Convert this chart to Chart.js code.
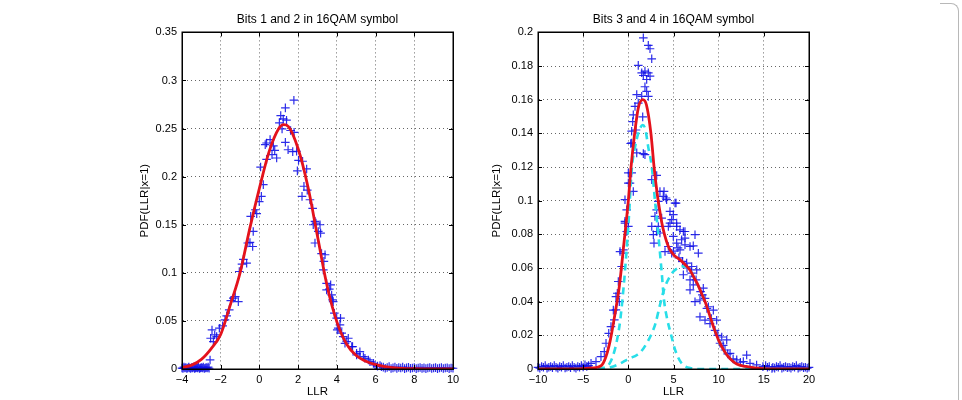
<!DOCTYPE html>
<html>
<head>
<meta charset="utf-8">
<script src="https://cdn.jsdelivr.net/npm/chart.js@4.4.0/dist/chart.umd.min.js"></script>
<style>
body { margin: 0; background: #fff; }
#wrap { position: relative; width: 962px; height: 400px; overflow: hidden; }
#wrap canvas { position: absolute; top: 0; }
#c1 { left: 0; }
#c2 { left: 481px; }
#corner { position: absolute; right: 3px; top: 3px; width: 18px; height: 420px;
  border-top: 1px solid #b8b8b8; border-right: 1px solid #b8b8b8; border-top-right-radius: 8px; }
</style>
</head>
<body>
<div id="wrap">
  <canvas id="c1" width="481" height="400"></canvas>
  <canvas id="c2" width="481" height="400"></canvas>
  <div id="corner"></div>
</div>
<script>
// ---- bits 1 and 2 : histogram points (LLR, pdf) ----
var llr12 = [
  -4.0,-3.95,-3.9,-3.85,-3.8,-3.75,-3.7,-3.65,-3.6,-3.55,
  -3.5,-3.45,-3.4,-3.35,-3.3,-3.25,-3.2,-3.15,-3.1,-3.05,
  -3.0,-2.95,-2.9,-2.85,-2.8,-2.75,-2.7,-2.65,-2.6,
  -2.55,-2.52,-2.45,-2.38,-2.31,-2.21,-2.07,-1.9,-1.78,-1.69,
  -1.56,-1.48,-1.35,-1.25,-1.09,-1.04,-0.9,-0.83,-0.66,-0.6,
  -0.49,-0.35,-0.32,-0.45,-0.21,-0.14,-0.01,0.06,0.1,0.2,
  0.3,0.37,0.37,0.55,0.65,0.72,0.79,0.89,1.03,1.1,
  1.17,1.23,1.34,1.34,1.4,1.48,1.61,1.72,1.78,1.79,
  1.92,1.96,2.02,2.2,2.23,2.3,2.44,2.47,2.61,2.75,
  2.78,2.87,2.87,2.92,3.04,3.13,3.16,3.21,3.3,3.33,
  3.39,3.47,3.47,3.61,3.68,3.73,3.78,3.81,3.87,3.99,
  4.02,4.07,4.16,4.19,4.25,4.33,4.42,4.51,4.59,4.77,
  4.81,5.02,5.02,5.19,5.37,5.45,5.63,5.71,5.89,5.97,
  6.1,6.23,6.3,
  6.4,6.5,6.6,6.7,6.8,6.9,7.0,7.1,7.2,7.3,
  7.4,7.5,7.6,7.7,7.8,7.9,8.0,8.1,8.2,8.3,
  8.4,8.5,8.6,8.7,8.8,8.9,9.0,9.1,9.2,9.3,
  9.4,9.5,9.6,9.7,9.8,9.9,10.0
];
var pdf12 = [
  0.001,0.0005,0.002,0.001,0.0015,0.0005,0.001,0.002,0.001,0.0005,
  0.0015,0.001,0.002,0.0005,0.001,0.0015,0.001,0.002,0.0005,0.001,
  0.0015,0.001,0.002,0.0005,0.001,0.0015,0.001,0.002,0.0008,
  0.0094,0.032,0.0406,0.0285,0.0354,0.0337,0.0424,0.0448,0.051,0.0552,
  0.0615,0.0712,0.0736,0.0753,0.0701,0.1014,0.109,0.114,0.110,0.131,
  0.1316,0.1274,0.143,0.1587,0.1656,0.1615,0.174,0.21,0.1795,0.1917,
  0.2333,0.235,0.218,0.2385,0.2229,0.232,0.2274,0.2194,0.256,0.2635,
  0.2497,0.26,0.2715,0.2357,0.2587,0.228,0.248,0.226,0.2795,0.246,
  0.2264,0.206,0.217,0.1795,0.216,0.19,0.208,0.186,0.176,0.167,
  0.15,0.131,0.1535,0.1517,0.143,0.15,0.1413,0.12,0.103,0.112,
  0.1188,0.089,0.0823,0.083,0.0875,0.077,0.0719,0.0701,0.058,0.0528,
  0.0406,0.0424,0.0458,0.0528,0.0372,0.0337,0.0267,0.0285,0.032,0.0233,
  0.0233,0.0163,0.0146,0.018,0.0128,0.0111,0.0094,0.0076,0.0059,0.0042,
  0.003,0.0035,0.0024,
  0.002,0.0008,0.0015,0.0025,0.0005,0.0012,0.002,0.0006,0.0015,0.001,
  0.002,0.0004,0.0012,0.0018,0.0006,0.001,0.0015,0.0004,0.001,0.0016,
  0.0006,0.0012,0.0004,0.001,0.0015,0.0005,0.001,0.0014,0.0004,0.001,
  0.0015,0.0005,0.001,0.0013,0.0004,0.001,0.0008
];
// fitted pdf (red)
var fit12X = [-4,-3.5,-3,-2.5,-2,-1.5,-1,-0.5,0,0.5,1,1.25,1.5,2,2.5,3,3.5,4,4.5,5,5.5,6,6.5,7,8,9,10];
var fit12Y = [0.0015,0.004,0.01,0.021,0.036,0.067,0.1,0.146,0.188,0.226,0.25,0.254,0.252,0.229,0.19,0.138,0.086,0.049,0.026,0.014,0.008,0.0045,0.0025,0.0012,0.0003,0.0001,0];

// ---- bits 3 and 4 ----
var llr34 = [
  -10,-9.8,-9.6,-9.4,-9.2,-9,-8.8,-8.6,-8.4,-8.2,
  -8,-7.8,-7.6,-7.4,-7.2,-7,-6.8,-6.6,-6.4,-6.2,
  -6,-5.8,-5.6,-5.4,-5.2,-5,-4.8,-4.6,-4.4,
  -4.13,-3.58,-3.03,-2.66,-2.47,-2.17,-1.92,-1.66,-1.55,-1.37,
  -1.37,-1.22,-1.11,-1.0,-0.92,-0.74,-0.55,-0.55,-0.37,-0.37,
  -0.37,-0.18,-0.18,0,0,0,0.18,0.26,0.37,0.37,
  0.37,0.48,0.55,0.55,0.74,0.85,0.93,0.93,1.1,1.1,
  1.48,1.48,1.59,1.66,1.66,1.66,1.84,1.84,1.84,2.03,
  2.03,2.21,2.21,2.21,2.4,2.4,2.59,2.59,2.59,2.77,
  2.84,2.95,3.14,3.14,3.14,3.32,3.32,3.5,3.5,3.69,
  3.87,3.95,4.06,4.17,4.24,4.43,4.43,4.61,4.61,4.8,
  4.8,4.98,4.98,5.0,5.17,5.28,5.35,5.35,5.35,5.5,
  5.6,5.72,5.72,5.9,6.0,6.09,6.09,6.27,6.27,6.27,
  6.46,6.5,6.83,6.83,6.83,7.0,7.01,7.19,7.19,7.38,
  7.38,7.5,7.57,7.75,7.93,7.93,8.0,8.2,8.3,8.49,
  8.49,8.7,8.86,9.04,9.2,9.41,9.6,9.78,9.9,10.15,
  10.34,10.5,10.7,10.89,11.0,11.26,11.6,12,12.4,12.73,
  13.1,13.47,14.2,14.9,15.9,
  15.2,15.4,15.6,16,16.2,16.4,16.6,16.8,17,17.2,
  17.4,17.6,17.8,18,18.2,18.4,18.6,18.8,19,19.2,
  19.4,19.6,19.8,20
];
var pdf34 = [
  0.001,0.0005,0.0015,0.001,0.002,0.0005,0.001,0.0015,0.0008,0.002,
  0.001,0.0005,0.0015,0.001,0.002,0.0006,0.001,0.0015,0.0008,0.002,
  0.001,0.0005,0.0015,0.001,0.002,0.0012,0.0025,0.0015,0.002,
  0.0034,0.0044,0.0073,0.0103,0.0153,0.0212,0.0252,0.035,0.0292,0.0351,
  0.043,0.045,0.052,0.04,0.0698,0.0609,0.0688,0.0708,0.0867,0.0877,
  0.1006,0.0817,0.0946,0.0847,0.1105,0.1165,0.1105,0.134,0.1165,0.1343,
  0.1413,0.147,0.1055,0.151,0.156,0.142,0.1284,0.163,0.158,0.1804,
  0.162,0.176,0.1498,0.128,0.1744,0.1968,0.1274,0.1677,0.177,0.165,
  0.172,0.162,0.176,0.1923,0.174,0.1903,0.1843,0.1125,0.0847,0.0798,
  0.0748,0.0907,0.0946,0.0817,0.115,0.0996,0.0847,0.1055,0.0808,0.0897,
  0.1026,0.1055,0.0698,0.1016,0.1006,0.0847,0.0728,0.0936,0.0867,0.0887,
  0.0688,0.0917,0.0788,0.07,0.0986,0.0986,0.0867,0.0748,0.0847,0.072,
  0.066,0.0827,0.0708,0.0768,0.064,0.0817,0.056,0.0817,0.0738,0.0778,
  0.0629,0.06,0.0728,0.053,0.047,0.057,0.0609,0.0732,0.05,0.0798,
  0.04,0.053,0.0589,0.0688,0.041,0.031,0.046,0.044,0.048,0.042,
  0.029,0.036,0.037,0.027,0.03,0.035,0.023,0.029,0.02,0.0153,
  0.019,0.014,0.0113,0.0173,0.009,0.0093,0.006,0.0054,0.004,0.0044,
  0.0083,0.0034,0.0024,0.0014,0.0004,
  0.002,0.001,0.0015,0.001,0.0005,0.0015,0.001,0.002,0.0005,0.001,
  0.0015,0.0008,0.001,0.0005,0.0015,0.001,0.002,0.0005,0.001,0.0015,
  0.0008,0.001,0.0005,0.001
];
// mixture fit (red) and its two components (cyan dashed)
var fit34X = [-10,-8,-6,-5,-4,-3,-2.5,-2,-1.5,-1,-0.5,0,0.3,0.7,1.1,1.6,2,2.5,2.85,3.2,3.45,3.7,4,4.5,5,5.7,6.3,6.8,7.3,7.7,8.1,8.5,9,9.5,10,10.7,11.3,12,13,14,15,16,18,20];
var fit34Y = [0,0,0,0.0002,0.0006,0.002,0.007,0.017,0.032,0.049,0.074,0.1,0.12,0.14,0.155,0.16,0.157,0.14,0.12,0.104,0.095,0.087,0.08,0.072,0.068,0.065,0.062,0.059,0.054,0.05,0.045,0.04,0.032,0.024,0.017,0.01,0.006,0.003,0.0015,0.0006,0.0002,0,0,0];
var comp1X = [-10,-4,-3,-2,-1,-0.5,0,0.4,0.75,1.1,1.6,1.9,2.2,2.6,2.95,3.3,3.7,3.95,4.25,4.7,5.2,5.9,7,8,20];
var comp1Y = [0,0,0.0005,0.004,0.025,0.05,0.085,0.12,0.132,0.14,0.145,0.142,0.132,0.12,0.1,0.081,0.057,0.041,0.031,0.021,0.011,0.0034,0.0004,0,0];
var comp2X = [-10,-3,-2,-1,0,1,1.5,2,2.5,3,3.5,4,4.5,5,5.5,6,6.3,6.8,7.3,7.7,8.1,8.5,9,9.5,10,10.7,11.3,12,13,14,15,16,20];
var comp2Y = [0,0,0.001,0.003,0.006,0.0085,0.011,0.015,0.02,0.027,0.038,0.048,0.054,0.058,0.06,0.061,0.061,0.059,0.054,0.05,0.045,0.04,0.032,0.024,0.017,0.01,0.006,0.003,0.0015,0.0006,0.0002,0,0];

function pts(xs, ys) {
  return xs.map(function (x, i) { return { x: x, y: ys[i] }; });
}

var FONT = 'Liberation Sans, Arial, Helvetica, sans-serif';

// MATLAB style box with inward ticks on all four sides
var matlabBox = {
  id: 'matlabBox',
  afterDraw: function (chart) {
    var ctx = chart.ctx, a = chart.chartArea;
    var xs = chart.scales.x, ys = chart.scales.y;
    ctx.save();
    ctx.strokeStyle = '#000';
    ctx.lineWidth = 1;
    ctx.beginPath();
    xs.ticks.forEach(function (t) {
      var px = Math.round(xs.getPixelForValue(t.value)) + 0.5;
      ctx.moveTo(px, a.bottom); ctx.lineTo(px, a.bottom - 4);
      ctx.moveTo(px, a.top); ctx.lineTo(px, a.top + 4);
    });
    ys.ticks.forEach(function (t) {
      var py = Math.round(ys.getPixelForValue(t.value)) + 0.5;
      ctx.moveTo(a.left, py); ctx.lineTo(a.left + 4, py);
      ctx.moveTo(a.right, py); ctx.lineTo(a.right - 4, py);
    });
    ctx.stroke();
    ctx.lineWidth = 1.5;
    ctx.strokeRect(Math.round(a.left) + 0.25, Math.round(a.top) + 0.25,
      Math.round(a.right - a.left), Math.round(a.bottom - a.top));
    ctx.restore();
  }
};

function numLabel(v) {
  var s = String(Math.round(v * 1000) / 1000);
  return v < 0 ? '\u2212' + s.slice(1) : s;
}

function makeChart(id, cfg) {
  var datasets = [
    {
      label: 'fit', data: pts(cfg.fitX, cfg.fitY), showLine: true,
      borderColor: 'rgb(228,18,28)', borderWidth: 2.8, pointRadius: 0,
      cubicInterpolationMode: 'monotone', fill: false
    }
  ];
  cfg.comps.forEach(function (c) {
    datasets.push({
      label: 'component', data: pts(c[0], c[1]), showLine: true,
      borderColor: 'rgb(40,222,232)', borderWidth: 2.6, borderDash: [7, 5],
      pointRadius: 0, cubicInterpolationMode: 'monotone', fill: false
    });
  });
  datasets.push({
    label: 'histogram', data: pts(cfg.ptsX, cfg.ptsY), showLine: false,
    pointStyle: 'cross', pointRadius: 4.3, borderWidth: 1.2,
    borderColor: 'rgba(15,15,230,0.88)', backgroundColor: 'rgba(15,15,230,0.88)',
    clip: false
  });

  return new Chart(document.getElementById(id).getContext('2d'), {
    type: 'scatter',
    data: { datasets: datasets },
    options: {
      responsive: false,
      animation: false,
      devicePixelRatio: 1,
      layout: { padding: cfg.padding },
      plugins: {
        legend: { display: false },
        tooltip: { enabled: false },
        title: {
          display: true, text: cfg.title, color: '#000', fullSize: false,
          font: { family: FONT, size: 12, weight: 'normal' },
          padding: { top: 12, bottom: 6 }
        }
      },
      scales: {
        x: {
          type: 'linear', min: cfg.xMin, max: cfg.xMax,
          afterFit: function (s) { s.height = 31; },
          ticks: { stepSize: cfg.xStep, color: '#000', padding: 4,
            font: { family: FONT, size: 11 }, callback: numLabel },
          grid: { color: 'rgba(0,0,0,0.6)', drawTicks: false },
          border: { display: true, color: '#000', width: 1, dash: [1, 3] },
          title: { display: true, text: 'LLR', color: '#000',
            font: { family: FONT, size: 11.5 }, padding: { top: 0, bottom: 1 } }
        },
        y: {
          type: 'linear', min: 0, max: cfg.yMax,
          afterFit: function (s) { s.width = cfg.yWidth; },
          ticks: { stepSize: cfg.yStep, color: '#000', padding: 5,
            font: { family: FONT, size: 11 }, callback: numLabel },
          grid: { color: 'rgba(0,0,0,0.6)', drawTicks: false },
          border: { display: true, color: '#000', width: 1, dash: [1, 3] },
          title: { display: true, text: 'PDF(LLR|x=1)', color: '#000',
            font: { family: FONT, size: 11.5 }, padding: { top: 0, bottom: 0 } }
        }
      }
    },
    plugins: [matlabBox]
  });
}

makeChart('c1', {
  title: 'Bits 1 and 2 in 16QAM symbol',
  ptsX: llr12, ptsY: pdf12, fitX: fit12X, fitY: fit12Y, comps: [],
  xMin: -4, xMax: 10, xStep: 2, yMax: 0.35, yStep: 0.05,
  yWidth: 44, padding: { left: 138, right: 28, top: 0, bottom: 0 }
});

makeChart('c2', {
  title: 'Bits 3 and 4 in 16QAM symbol',
  ptsX: llr34, ptsY: pdf34, fitX: fit34X, fitY: fit34Y,
  comps: [[comp1X, comp1Y], [comp2X, comp2Y]],
  xMin: -10, xMax: 20, xStep: 5, yMax: 0.2, yStep: 0.02,
  yWidth: 48, padding: { left: 9, right: 153, top: 0, bottom: 0 }
});
</script>
</body>
</html>
